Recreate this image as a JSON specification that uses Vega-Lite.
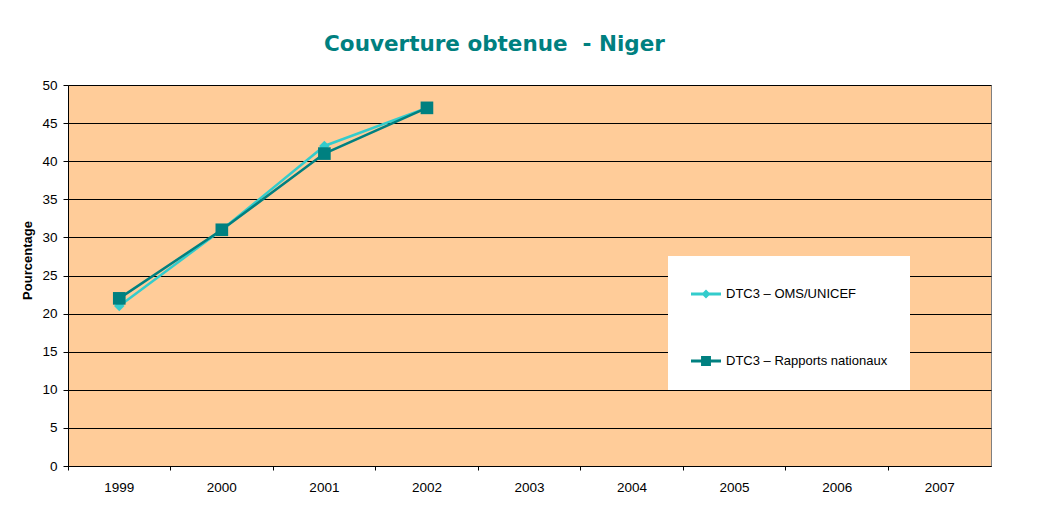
{
  "$schema": "https://vega.github.io/schema/vega-lite/v6.json",
  "autosize": "none",
  "width": 923,
  "height": 381,
  "padding": {"left": 68, "top": 85, "right": 49, "bottom": 42},
  "background": "white",
  "title": {
    "text": "Couverture obtenue\u00a0 - Niger",
    "font": "DejaVu Sans",
    "fontSize": 21.5,
    "fontWeight": "bold",
    "color": "#008080",
    "anchor": "middle",
    "dx": -35,
    "offset": 23
  },
  "data": {
    "values": [
      {"annee": "1999", "serie": "DTC3 – OMS/UNICEF", "valeur": 21},
      {"annee": "2000", "serie": "DTC3 – OMS/UNICEF", "valeur": 31},
      {"annee": "2001", "serie": "DTC3 – OMS/UNICEF", "valeur": 42},
      {"annee": "2002", "serie": "DTC3 – OMS/UNICEF", "valeur": 47},
      {"annee": "1999", "serie": "DTC3 – Rapports nationaux", "valeur": 22},
      {"annee": "2000", "serie": "DTC3 – Rapports nationaux", "valeur": 31},
      {"annee": "2001", "serie": "DTC3 – Rapports nationaux", "valeur": 41},
      {"annee": "2002", "serie": "DTC3 – Rapports nationaux", "valeur": 47}
    ]
  },
  "encoding": {
    "x": {
      "field": "annee",
      "type": "ordinal",
      "scale": {
        "domain": ["1999", "2000", "2001", "2002", "2003", "2004", "2005", "2006", "2007"],
        "type": "band",
        "paddingInner": 0,
        "paddingOuter": 0
      },
      "axis": {
        "title": null,
        "labelAngle": 0,
        "bandPosition": 0,
        "labelFont": "Liberation Sans",
        "labelFontSize": 13.5,
        "labelColor": "#000000",
        "labelPadding": 10,
        "tickSize": 4,
        "tickColor": "#000000",
        "domainColor": "#000000",
        "grid": false
      }
    },
    "y": {
      "field": "valeur",
      "type": "quantitative",
      "scale": {"domain": [0, 50], "nice": false},
      "axis": {
        "title": "Pourcentage",
        "titleFont": "Liberation Sans",
        "titleFontSize": 13,
        "titleFontWeight": "bold",
        "titleColor": "#000000",
        "titlePadding": 7,
        "titleY": 175,
        "values": [0, 5, 10, 15, 20, 25, 30, 35, 40, 45, 50],
        "labelFont": "Liberation Sans",
        "labelFontSize": 13.5,
        "labelColor": "#000000",
        "labelPadding": 6,
        "tickSize": 5,
        "tickColor": "#000000",
        "domainColor": "#000000",
        "grid": true,
        "gridColor": "#000000",
        "gridOpacity": 1,
        "gridWidth": 1
      }
    },
    "color": {
      "field": "serie",
      "type": "nominal",
      "scale": {
        "domain": ["DTC3 – OMS/UNICEF", "DTC3 – Rapports nationaux"],
        "range": ["#33CCCC", "#008080"]
      },
      "legend": null
    }
  },
  "layer": [
    {
      "mark": {"type": "line", "strokeWidth": 2.5}
    },
    {
      "mark": {"type": "point", "filled": true, "opacity": 1},
      "encoding": {
        "shape": {
          "field": "serie",
          "type": "nominal",
          "scale": {
            "domain": ["DTC3 – OMS/UNICEF", "DTC3 – Rapports nationaux"],
            "range": ["diamond", "square"]
          },
          "legend": null
        },
        "size": {
          "field": "serie",
          "type": "nominal",
          "scale": {
            "domain": ["DTC3 – OMS/UNICEF", "DTC3 – Rapports nationaux"],
            "range": [110, 160]
          },
          "legend": null
        }
      }
    },
    {
      "transform": [{"filter": "false"}],
      "mark": {"type": "point", "filled": true, "opacity": 1, "size": 900},
      "encoding": {
        "color": {
          "field": "serie",
          "type": "nominal",
          "scale": {
            "domain": ["DTC3 – OMS/UNICEF", "DTC3 – Rapports nationaux"],
            "range": ["#33CCCC", "#008080"]
          },
          "legend": {
            "title": null,
            "orient": "none",
            "legendX": 600,
            "legendY": 171,
            "fillColor": "#FFFFFF",
            "strokeColor": null,
            "padding": 22,
            "symbolSize": 900,
            "rowPadding": 44,
            "labelOffset": 4,
            "labelFont": "Liberation Sans",
            "labelFontSize": 13,
            "labelColor": "#000000",
            "labelLimit": 300
          }
        },
        "shape": {
          "field": "serie",
          "type": "nominal",
          "scale": {
            "domain": ["DTC3 – OMS/UNICEF", "DTC3 – Rapports nationaux"],
            "range": [
              "M-1,-0.1H1V0.1H-1Z M-0.3,0L0,-0.3L0.3,0L0,0.3Z",
              "M-1,-0.1H1V0.1H-1Z M-0.33,-0.33H0.33V0.33H-0.33Z"
            ]
          },
          "legend": {
            "title": null,
            "orient": "none",
            "legendX": 600,
            "legendY": 171,
            "fillColor": "#FFFFFF",
            "strokeColor": null,
            "padding": 22,
            "symbolSize": 900,
            "rowPadding": 44,
            "labelOffset": 4,
            "labelFont": "Liberation Sans",
            "labelFontSize": 13,
            "labelColor": "#000000",
            "labelLimit": 300
          }
        }
      }
    }
  ],
  "resolve": {
    "scale": {"shape": "independent"},
    "legend": {"color": "independent", "shape": "independent"}
  },
  "config": {
    "view": {"fill": "#FFCC99", "stroke": "#808080", "strokeWidth": 1}
  }
}
